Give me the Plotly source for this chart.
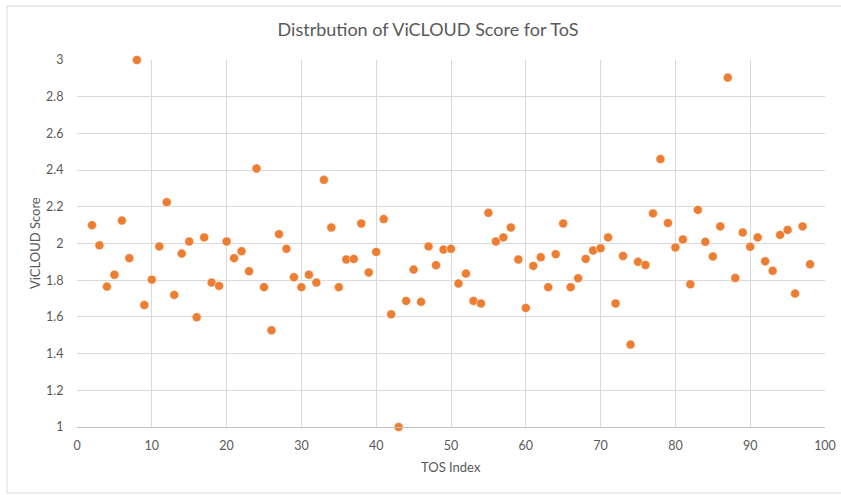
import plotly.graph_objects as go

tos_index = list(range(2, 99))
vicloud_score = [
    2.10, 1.99, 1.765, 1.83, 2.125, 1.92, 3.00, 1.665, 1.803, 1.984,
    2.225, 1.72, 1.945, 2.011, 1.598, 2.033, 1.787, 1.769, 2.011, 1.92,
    1.958, 1.849, 2.409, 1.762, 1.527, 2.051, 1.971, 1.816, 1.762, 1.83,
    1.787, 2.347, 2.087, 1.762, 1.913, 1.916, 2.109, 1.842, 1.954, 2.133,
    1.614, 1.00, 1.687, 1.858, 1.682, 1.984, 1.882, 1.967, 1.971, 1.782,
    1.836, 1.687, 1.673, 2.167, 2.011, 2.033, 2.087, 1.913, 1.649, 1.878,
    1.925, 1.762, 1.942, 2.109, 1.762, 1.811, 1.916, 1.962, 1.974, 2.033,
    1.673, 1.932, 1.449, 1.90, 1.883, 2.164, 2.46, 2.112, 1.978, 2.022,
    1.778, 2.183, 2.009, 1.929, 2.093, 2.904, 1.812, 2.06, 1.982, 2.033,
    1.903, 1.851, 2.047, 2.074, 1.727, 2.093, 1.887,
]

title_text = "Distrbution of ViCLOUD Score for ToS"
x_title = "TOS Index"
y_title = "ViCLOUD Score"

font_family = "Lato, 'Open Sans', sans-serif"
text_col = "#595959"
grid_col = "#d9d9d9"

W, H = 841, 495
L, R, T, B = 77, 16, 60, 68
pw, ph = W - L - R, H - T - B

fig = go.Figure()
fig.add_trace(go.Scatter(
    x=tos_index, y=vicloud_score, mode="markers",
    marker=dict(color="#ED7D31", size=9, line=dict(color="#ffffff", width=0.5)),
    showlegend=False, cliponaxis=False,
))

fig.update_layout(
    width=W, height=H,
    paper_bgcolor="white", plot_bgcolor="white",
    margin=dict(l=L, r=R, t=T, b=B, autoexpand=False),
    title=dict(text=title_text, x=428 / W, xanchor="center", y=1 - 30/H, yanchor="middle",
               font=dict(family=font_family, size=18, color=text_col)),
    font=dict(family=font_family, color=text_col, size=12),
    xaxis=dict(range=[0, 100], dtick=10, tick0=0, showgrid=True, gridcolor=grid_col,
               gridwidth=1, zeroline=False, showline=True, linecolor="#bfbfbf",
               linewidth=1, mirror=False, ticks="outside", ticklen=7,
               tickcolor="rgba(0,0,0,0)", automargin=False,
               tickfont=dict(size=12.5, color=text_col)),
    yaxis=dict(range=[1, 3], dtick=0.2, tick0=1, showgrid=True, gridcolor=grid_col,
               gridwidth=1, zeroline=False, showline=False, ticks="outside", ticklen=10,
               tickcolor="rgba(0,0,0,0)", automargin=False,
               tickfont=dict(size=12.5, color=text_col), tickformat="~g"),
    annotations=[
        dict(text=x_title, xref="paper", yref="paper", x=(451 - L) / pw, y=-(467 - (T + ph)) / ph,
             xanchor="center", yanchor="middle", showarrow=False,
             font=dict(family=font_family, size=13, color=text_col)),
        dict(text=y_title, xref="paper", yref="paper", x=-(L - 35) / pw, y=(T + ph - 243) / ph,
             xanchor="center", yanchor="middle", showarrow=False, textangle=-90,
             font=dict(family=font_family, size=13, color=text_col)),
    ],
    shapes=[dict(type="rect", xref="paper", yref="paper",
                 x0=-(L - 7) / pw, x1=1 + (R + 10) / pw, y0=-(493 - (T + ph)) / ph, y1=1 + (T - 6) / ph,
                 line=dict(color="#d9d9d9", width=1), fillcolor="rgba(0,0,0,0)",
                 layer="below")],
)

fig.write_html("out.html", config={"displayModeBar": False},
               post_script="document.body.style.margin='0';document.body.style.overflow='hidden';")
